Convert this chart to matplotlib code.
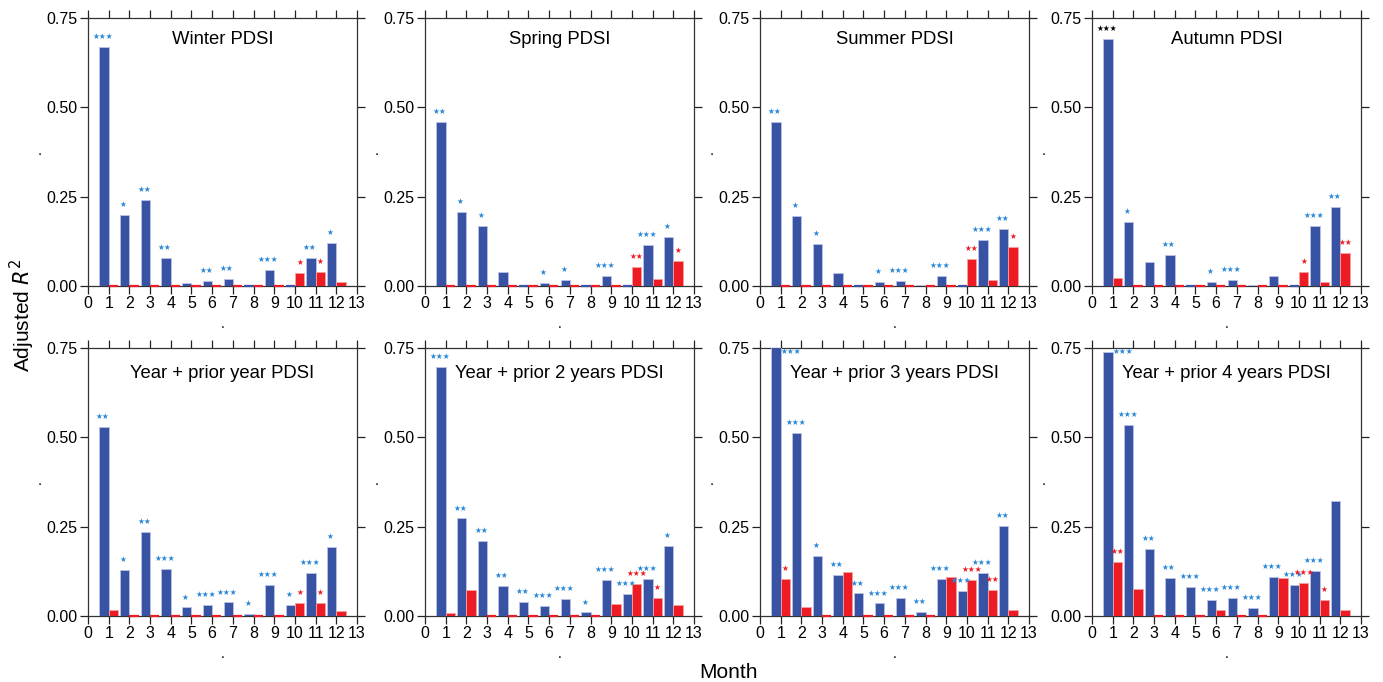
import matplotlib
matplotlib.use("Agg")
import matplotlib.pyplot as plt
import numpy as np

plt.rcParams['font.family'] = ['Liberation Sans', 'DejaVu Sans']

months = list(range(1, 13))
titles = ["Winter PDSI", "Spring PDSI", "Summer PDSI", "Autumn PDSI",
          "Year + prior year PDSI", "Year + prior 2 years PDSI",
          "Year + prior 3 years PDSI", "Year + prior 4 years PDSI"]

blue_winter = [0.669, 0.200, 0.242, 0.078, 0.008, 0.015, 0.019, 0.0, 0.045, 0.0, 0.078, 0.121]
red_winter = [0, 0, 0, 0, 0, 0, 0, 0, 0, 0.036, 0.039, 0.010]
blue_spring = [0.458, 0.208, 0.167, 0.038, 0.0, 0.008, 0.017, 0.0, 0.029, 0.0, 0.114, 0.137]
red_spring = [0, 0, 0, 0, 0, 0, 0, 0, 0, 0.053, 0.020, 0.071]
blue_summer = [0.460, 0.197, 0.118, 0.036, 0.0, 0.011, 0.015, 0.004, 0.028, 0.0, 0.129, 0.159]
red_summer = [0, 0, 0, 0, 0, 0, 0, 0, 0, 0.075, 0.017, 0.110]
blue_autumn = [0.692, 0.180, 0.067, 0.087, 0.0, 0.011, 0.018, 0.003, 0.028, 0.0, 0.168, 0.221]
red_autumn = [0.023, 0, 0, 0, 0, 0, 0, 0, 0, 0.039, 0.011, 0.092]
blue_y1 = [0.529, 0.130, 0.235, 0.131, 0.024, 0.032, 0.038, 0.0065, 0.086, 0.030, 0.121, 0.193]
red_y1 = [0.017, 0, 0, 0, 0, 0, 0, 0, 0, 0.036, 0.037, 0.015]
blue_y2 = [0.697, 0.273, 0.210, 0.085, 0.040, 0.027, 0.048, 0.010, 0.100, 0.061, 0.103, 0.196]
red_y2 = [0.0075, 0.073, 0, 0, 0, 0, 0, 0, 0.033, 0.090, 0.050, 0.031]
blue_y3 = [0.76, 0.512, 0.168, 0.114, 0.063, 0.035, 0.050, 0.011, 0.103, 0.070, 0.121, 0.253]
red_y3 = [0.104, 0.025, 0, 0.123, 0, 0, 0, 0, 0.108, 0.100, 0.072, 0.017]
blue_y4 = [0.739, 0.534, 0.188, 0.107, 0.081, 0.046, 0.050, 0.0215, 0.109, 0.086, 0.126, 0.322]
red_y4 = [0.152, 0.075, 0, 0, 0, 0.016, 0, 0, 0.105, 0.093, 0.045, 0.018]

stars_blue = [
    [3, 1, 2, 2, 0, 2, 2, 0, 3, 0, 2, 1],
    [2, 1, 1, 0, 0, 1, 1, 0, 3, 0, 3, 1],
    [2, 1, 1, 0, 0, 1, 3, 0, 3, 0, 3, 2],
    [3, 1, 0, 2, 0, 1, 3, 0, 0, 0, 3, 2],
    [2, 1, 2, 3, 1, 3, 3, 1, 3, 1, 3, 1],
    [3, 2, 2, 2, 2, 3, 3, 1, 3, 3, 3, 1],
    [3, 3, 1, 2, 2, 3, 3, 2, 3, 3, 3, 2],
    [3, 3, 2, 2, 3, 3, 3, 3, 3, 3, 3, 0],
]
stars_red = [
    [0, 0, 0, 0, 0, 0, 0, 0, 0, 1, 1, 0],
    [0, 0, 0, 0, 0, 0, 0, 0, 0, 2, 0, 1],
    [0, 0, 0, 0, 0, 0, 0, 0, 0, 2, 0, 1],
    [0, 0, 0, 0, 0, 0, 0, 0, 0, 1, 0, 2],
    [0, 0, 0, 0, 0, 0, 0, 0, 0, 1, 1, 0],
    [0, 0, 0, 0, 0, 0, 0, 0, 0, 3, 1, 0],
    [1, 0, 0, 0, 0, 0, 0, 0, 0, 3, 2, 0],
    [2, 0, 0, 0, 0, 0, 0, 0, 0, 3, 1, 0],
]
# panel index, month index of a black star group
black_star = (3, 0)

blues = [blue_winter, blue_spring, blue_summer, blue_autumn, blue_y1, blue_y2, blue_y3, blue_y4]
reds = [red_winter, red_spring, red_summer, red_autumn, red_y1, red_y2, red_y3, red_y4]

BLUE = '#3953a4'
RED = '#ed1c24'
STAR_BLUE = '#2a88d6'
STAR_RED = '#ed1c24'

W, H = 1383, 682
fig = plt.figure(figsize=(W / 100, H / 100), dpi=100)

lefts = [88, 425, 760, 1092]
tops = [18, 348]
pw, ph = 269, 268

x = np.array(months, dtype=float)
bw = 0.45

for i in range(8):
    r, c = divmod(i, 4)
    ax = fig.add_axes([lefts[c] / W, 1 - (tops[r] + ph) / H, pw / W, ph / H])
    b = np.array(blues[i])
    rd = np.array(reds[i])
    ax.bar(x - bw / 2, b, width=bw, color=BLUE, edgecolor='#b9c2e6', linewidth=0.6, zorder=3)
    ax.bar(x + bw / 2, rd, width=bw, color=RED, edgecolor='#f6a0a0', linewidth=0.6, zorder=3)
    # zero bars as thin coloured lines on baseline
    for xx, v in zip(x, b):
        if v == 0:
            ax.plot([xx - bw, xx], [0, 0], color=BLUE, lw=1.6, zorder=4, solid_capstyle='butt', clip_on=False)
    for xx, v in zip(x, rd):
        if v == 0:
            ax.plot([xx, xx + bw], [0, 0], color=RED, lw=1.6, zorder=4, solid_capstyle='butt', clip_on=False)

    for j in range(12):
        nb = stars_blue[i][j]
        if nb:
            col = 'black' if (i, j) == black_star else STAR_BLUE
            v = b[j]
            if v > 0.72:
                ax.annotate('★' * nb, (x[j], min(v, 0.74)), xytext=(0, 0), textcoords='offset points',
                            ha='left', va='center', fontsize=5.5, color=col, zorder=5,
                            family=['DejaVu Sans'])
            else:
                ax.annotate('★' * nb, (x[j] - bw / 2, v), xytext=(-1, 7.5), textcoords='offset points',
                            ha='center', va='center', fontsize=5.5, color=col, zorder=5,
                            family=['DejaVu Sans'])
        nr = stars_red[i][j]
        if nr:
            ax.annotate('★' * nr, (x[j] + bw / 2, rd[j]), xytext=(0, 7.5), textcoords='offset points',
                        ha='center', va='center', fontsize=5.5, color=STAR_RED, zorder=5,
                        family=['DejaVu Sans'])

    ax.set_xlim(0, 13)
    ax.set_ylim(0, 0.75)
    ax.set_xticks(range(0, 14))
    ax.set_yticks([0, 0.25, 0.5, 0.75])
    ax.set_yticklabels(['0.00', '0.25', '0.50', '0.75'])
    ax.tick_params(direction='out', length=5.5, width=0.9, labelsize=11.5, pad=2,
                   top=True, right=True, colors='#222222', labelcolor='black')
    for s in ax.spines.values():
        s.set_linewidth(0.9)
        s.set_color('#333333')
    ty = 0.918 if r == 0 else 0.906
    ax.text(0.5, ty, titles[i], transform=ax.transAxes, ha='center', va='center', fontsize=13.3)
    ax.set_ylabel('.', fontsize=10, labelpad=2)
    ax.set_xlabel('.', fontsize=10, labelpad=4)

fig.text(22 / W, 1 - 316 / H, 'Adjusted $R^2$', rotation=90, ha='center', va='center', fontsize=15)
fig.text(728 / W, 1 - 672 / H, 'Month', ha='center', va='center', fontsize=15)

fig.savefig('out.png', dpi=100)
